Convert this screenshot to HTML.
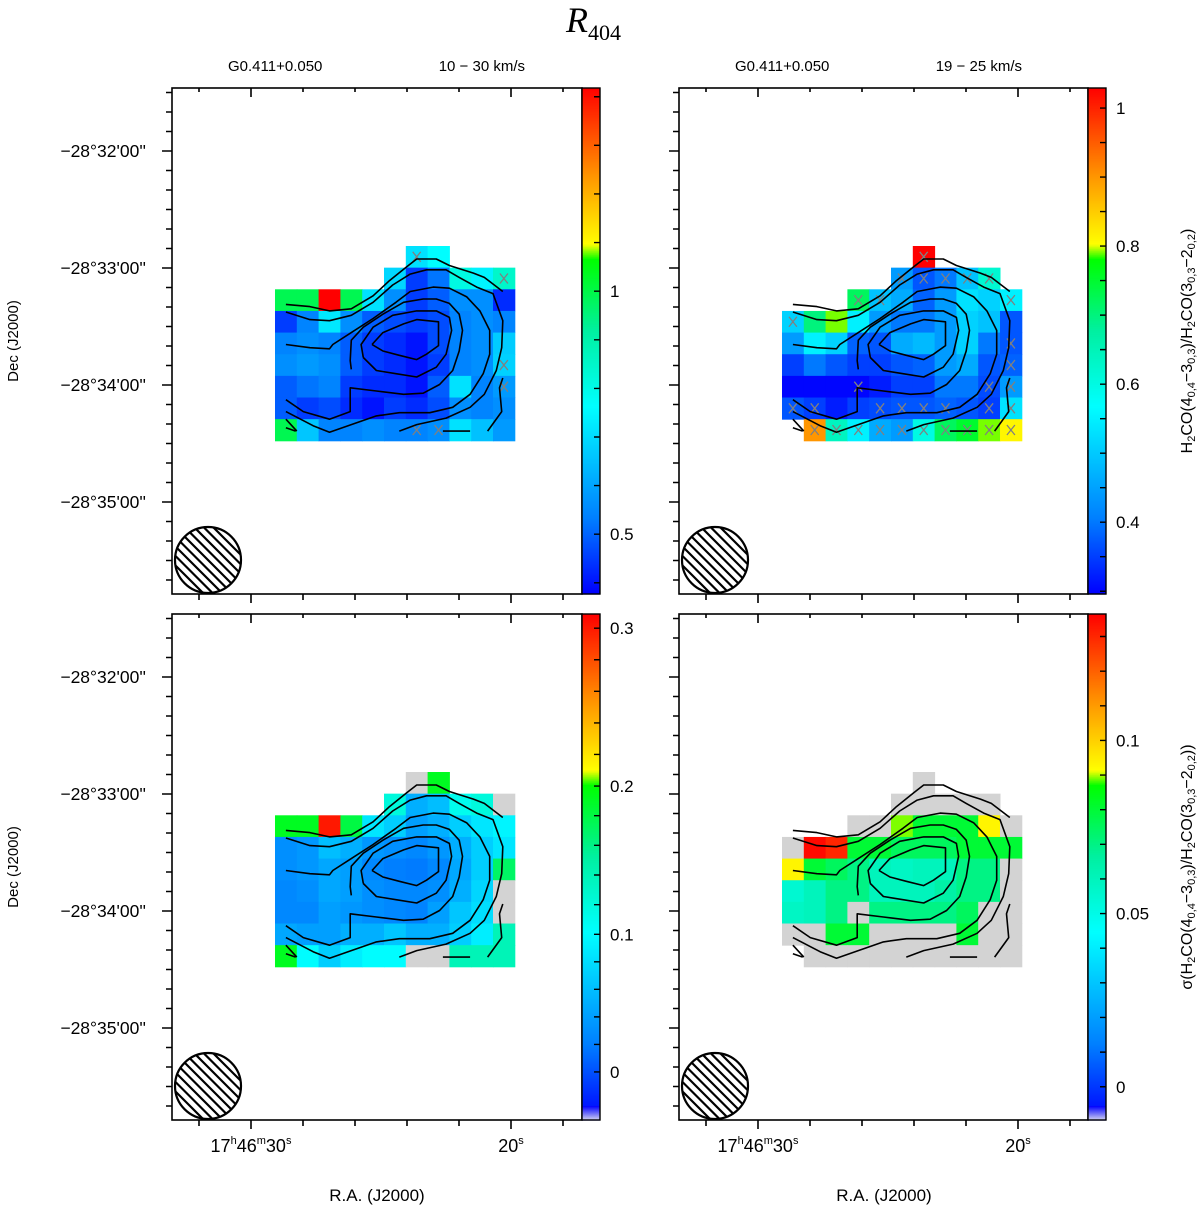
<!DOCTYPE html>
<html><head><meta charset="utf-8"><style>
html,body{margin:0;padding:0;background:#fff;}
svg{display:block;font-family:"Liberation Sans",sans-serif;}
</style></head><body>
<svg id="fig" width="1200" height="1208" viewBox="0 0 1200 1208" xmlns="http://www.w3.org/2000/svg">
<text x="566" y="32" font-family="Liberation Serif,serif" font-style="italic" font-size="36">R<tspan font-size="22" dy="8" font-style="normal">404</tspan></text>
<text x="228" y="71" font-size="15">G0.411+0.050</text>
<text x="525" y="71" text-anchor="end" font-size="15">10 − 30 km/s</text>
<text x="735" y="71" font-size="15">G0.411+0.050</text>
<text x="1022" y="71" text-anchor="end" font-size="15">19 − 25 km/s</text>
<text transform="translate(18,341) rotate(-90)" text-anchor="middle" font-size="15">Dec (J2000)</text>
<text transform="translate(18,867) rotate(-90)" text-anchor="middle" font-size="15">Dec (J2000)</text>
<text x="377" y="1201" text-anchor="middle" font-size="17">R.A. (J2000)</text>
<text x="884" y="1201" text-anchor="middle" font-size="17">R.A. (J2000)</text>
<text transform="translate(1192,341) rotate(-90)" text-anchor="middle" font-size="16">H<tspan font-size="11" dy="3">2</tspan><tspan dy="-3">CO(4</tspan><tspan font-size="11" dy="3">0,4</tspan><tspan dy="-3">−3</tspan><tspan font-size="11" dy="3">0,3</tspan><tspan dy="-3">)/H</tspan><tspan font-size="11" dy="3">2</tspan><tspan dy="-3">CO(3</tspan><tspan font-size="11" dy="3">0,3</tspan><tspan dy="-3">−2</tspan><tspan font-size="11" dy="3">0,2</tspan><tspan dy="-3">)</tspan></text>
<text transform="translate(1192,867) rotate(-90)" text-anchor="middle" font-size="16">σ(H<tspan font-size="11" dy="3">2</tspan><tspan dy="-3">CO(4</tspan><tspan font-size="11" dy="3">0,4</tspan><tspan dy="-3">−3</tspan><tspan font-size="11" dy="3">0,3</tspan><tspan dy="-3">)/H</tspan><tspan font-size="11" dy="3">2</tspan><tspan dy="-3">CO(3</tspan><tspan font-size="11" dy="3">0,3</tspan><tspan dy="-3">−2</tspan><tspan font-size="11" dy="3">0,2</tspan><tspan dy="-3">))</tspan></text>
</svg>
<script>
// ---- data (null = no data, -1 = masked grey) ----
const n = null, g = -1;
const ratioWide = [
 [n,n,n,n,n,n,0.71,0.76,n,n,n],
 [n,n,n,n,n,0.69,0.45,0.52,0.81,0.74,0.85],
 [0.99,0.99,1.50,0.99,0.71,0.56,0.45,0.49,0.56,0.56,0.43],
 [0.45,0.54,0.72,0.56,0.49,0.47,0.45,0.47,0.54,0.56,0.54],
 [0.54,0.56,0.54,0.49,0.45,0.43,0.40,0.47,0.54,0.56,0.67],
 [0.56,0.58,0.56,0.49,0.45,0.43,0.40,0.45,0.54,0.56,0.68],
 [0.49,0.52,0.54,0.45,0.43,0.43,0.40,0.49,0.71,0.54,0.58],
 [0.49,0.45,0.47,0.43,0.40,0.45,0.43,0.47,0.56,0.54,0.56],
 [0.99,0.66,0.54,0.54,0.56,0.54,0.54,0.56,0.71,0.65,0.58]
];
const ratioNarrow = [
 [n,n,n,n,n,n,1.05,n,n,n,n],
 [n,n,n,n,n,0.44,0.37,0.40,0.49,0.62,n],
 [n,n,n,0.72,0.49,0.46,0.38,0.44,0.53,0.51,0.55],
 [0.51,0.70,0.79,0.55,0.44,0.40,0.40,0.44,0.51,0.49,0.37],
 [0.44,0.55,0.51,0.38,0.37,0.46,0.48,0.44,0.51,0.40,0.37],
 [0.35,0.40,0.37,0.35,0.35,0.37,0.38,0.44,0.46,0.37,0.38],
 [0.30,0.30,0.30,0.30,0.32,0.35,0.35,0.40,0.40,0.36,0.44],
 [0.37,0.35,0.32,0.35,0.36,0.37,0.37,0.38,0.37,0.35,0.53],
 [n,0.90,0.64,0.55,0.46,0.44,0.60,0.72,0.75,0.79,0.81]
];
const sigmaWide = [
 [n,n,n,n,n,n,g,0.19,n,n,n],
 [n,n,n,n,n,0.12,0.05,0.06,0.11,0.12,g],
 [0.19,0.19,0.30,0.18,0.085,0.07,0.04,0.05,0.07,0.085,0.095],
 [0.03,0.035,0.06,0.05,0.035,0.03,0.025,0.035,0.05,0.07,0.085],
 [0.03,0.035,0.045,0.04,0.025,0.02,0.018,0.025,0.045,0.07,0.17],
 [0.025,0.03,0.045,0.04,0.03,0.025,0.025,0.03,0.05,0.075,g],
 [0.025,0.025,0.04,0.035,0.03,0.025,0.022,0.04,0.065,0.08,g],
 [0.045,0.04,0.04,0.05,0.05,0.065,0.05,0.05,0.07,0.09,0.14],
 [0.19,0.10,0.07,0.09,0.10,0.10,g,g,0.14,0.14,0.14]
];
const sigmaNarrow = [
 [n,n,n,n,n,n,g,n,n,n,n],
 [n,n,n,n,n,g,g,g,g,g,n],
 [n,n,n,g,g,0.089,0.080,0.080,0.080,0.093,g],
 [g,0.135,0.130,0.080,0.080,0.075,0.075,0.075,0.080,0.080,0.080],
 [0.093,0.080,0.075,0.070,0.060,0.058,0.060,0.060,0.070,0.070,g],
 [0.055,0.060,0.070,0.070,0.060,0.060,0.060,0.065,0.070,0.070,g],
 [0.058,0.060,0.070,g,0.070,0.070,0.070,0.070,0.075,g,g],
 [g,g,0.080,0.080,g,g,g,g,0.080,g,g],
 [n,g,g,g,g,g,g,g,g,g,g]
];
// flagged pixels [col,row]
const flagsWide = [[6,0],[10,1],[10,5],[10,6],[6,8],[7,8]];
const flagsNarrow = [[6,0],[5,1],[6,1],[7,1],[8,1],[9,1],[3,2],[4,2],[10,2],[0,3],[10,4],[10,5],[3,6],[9,6],[10,6],
 [0,7],[1,7],[4,7],[5,7],[6,7],[7,7],[9,7],[10,7],[1,8],[2,8],[3,8],[4,8],[5,8],[6,8],[7,8],[8,8],[9,8],[10,8]];
// contour lines in pixel-grid units [col,row]
const contourA = [[0.5,2.7],[1.6,2.8],[2.5,3.0],[3.5,2.9],[4.5,2.3],[5.25,1.6],[6.05,0.95],[6.5,0.6],[7.4,0.6],[8.0,0.9],[9.1,1.25],[9.6,1.45],[10.45,2.1]];
const contourB = [[0.5,3.05],[1.6,3.4],[2.5,3.45],[3.5,3.2],[4.5,2.6],[5.4,1.8],[6.2,1.3],[6.95,1.1],[7.85,1.1],[8.45,1.45],[9.25,1.9],[10.0,2.2],[10.45,3.45],[10.4,4.7],[10.15,5.75],[9.6,6.85],[8.95,7.45],[7.85,7.95],[6.5,8.25],[5.7,8.55]];
const contourC = [[0.5,4.55],[1.6,4.7],[2.5,4.75],[2.65,4.55],[3.5,4.0],[4.5,3.35],[5.55,2.6],[6.2,2.1],[7.25,1.9],[8.0,1.95],[8.8,2.35],[9.4,3.0],[9.85,3.9],[9.85,5.0],[9.55,5.9],[8.95,6.85],[8.15,7.45],[7.1,7.7],[5.7,7.7],[4.65,7.85],[3.5,8.25],[2.5,8.6],[1.75,8.3],[0.5,7.65]];
const contourD = [[0.5,7.1],[1.3,7.65],[2.5,8.0],[3.45,7.65],[3.45,6.55],[4.65,6.7],[5.9,6.85],[6.8,6.8],[7.55,6.4],[8.15,5.75],[8.45,4.85],[8.6,3.9],[8.45,3.15],[8.0,2.65],[7.4,2.45],[6.8,2.45],[5.9,2.6],[4.95,3.15],[4.05,3.75],[3.5,4.35],[3.45,5.3],[3.5,5.7]];
const contourE = [[4.05,5.15],[3.95,4.55],[4.5,3.75],[5.4,3.2],[6.5,3.0],[7.4,3.0],[8.0,3.3],[8.1,3.9],[7.85,5.0],[7.4,5.6],[6.5,6.05],[5.55,5.9],[4.65,5.75],[4.05,5.15]];
const contourF = [[4.45,4.55],[4.95,4.0],[5.9,3.6],[6.5,3.4],[7.5,3.5],[7.5,4.6],[6.95,5.0],[6.5,5.25],[5.7,5.05],[4.95,4.85],[4.45,4.55]];
const contourS1 = [[0.5,8.0],[1.0,8.55]];
const contourS2 = [[7.7,8.55],[8.95,8.55]];
const contourS3 = [[9.75,8.55],[10.4,7.65],[10.3,6.55],[10.45,6.1]];
const contourS4 = [[0.5,8.4],[0.95,8.55]];
// colorbar ticks
const ticksWideMajor = [0.5, 1];
const ticksWideLabels = ['0.5', '1'];
const ticksNarrowMajor = [0.4, 0.6, 0.8, 1];
const ticksNarrowLabels = ['0.4', '0.6', '0.8', '1'];
const ticksSigWMajor = [0, 0.1, 0.2, 0.3];
const ticksSigWLabels = ['0', '0.1', '0.2', '0.3'];
const ticksSigNMajor = [0, 0.05, 0.1];
const ticksSigNLabels = ['0', '0.05', '0.1'];
const decTickLabels = ["−28°32'00''", "−28°33'00''", "−28°34'00''", "−28°35'00''"];
const decTickMinutes = [32, 33, 34, 35];
const raTickSeconds = [30, 20];

// ---- geometry ----
const SVGNS = 'http://www.w3.org/2000/svg';
const svg = document.getElementById('fig');
function el(tag, attrs, parent) {
  const e = document.createElementNS(SVGNS, tag);
  for (const k in attrs) e.setAttribute(k, attrs[k]);
  (parent || svg).appendChild(e);
  return e;
}
const stops = [[0,[0,0,255]],[0.15,[0,128,255]],[0.37,[0,255,255]],[0.52,[0,240,160]],[0.66,[0,255,0]],[0.69,[255,255,0]],[0.82,[255,153,0]],[1,[255,0,0]]];
function cmap(f) {
  f = Math.max(0, Math.min(1, f));
  for (let i = 1; i < stops.length; i++) {
    if (f <= stops[i][0]) {
      const a = stops[i-1], b = stops[i], t = (f - a[0]) / (b[0] - a[0]);
      const c = a[1].map((v, k) => Math.round(v + (b[1][k] - v) * t));
      return 'rgb(' + c.join(',') + ')';
    }
  }
  return 'rgb(255,0,0)';
}
function lin(vmin, vmax) { return v => (v - vmin) / (vmax - vmin); }
function piece(vals, fr) {
  return v => {
    for (let i = 1; i < vals.length; i++) if (v <= vals[i] || i === vals.length - 1) {
      return fr[i-1] + (v - vals[i-1]) / (vals[i] - vals[i-1]) * (fr[i] - fr[i-1]);
    }
  };
}
const panels = [
  {name:'ratio-wide', ox:0, oy:0, data:ratioWide, flags:flagsWide, scale:lin(0.377,1.418), major:ticksWideMajor, labels:ticksWideLabels, minor:[0.4,1.4,0.1], xlabels:false, ylabels:true, lav:false},
  {name:'ratio-narrow', ox:507, oy:0, data:ratioNarrow, flags:flagsNarrow, scale:lin(0.296,1.029), major:ticksNarrowMajor, labels:ticksNarrowLabels, minor:[0.3,1.0,0.05], xlabels:false, ylabels:false, lav:false},
  {name:'sigma-wide', ox:0, oy:526, data:sigmaWide, flags:[], scale:piece([-0.035,0,0.1,0.2,0.3,0.309],[0,0.095,0.367,0.66,0.972,1]), major:ticksSigWMajor, labels:ticksSigWLabels, minor:[0,0.3,0.02], xlabels:true, ylabels:true, lav:true},
  {name:'sigma-narrow', ox:507, oy:526, data:sigmaNarrow, flags:[], scale:lin(-0.0096,0.1365), major:ticksSigNMajor, labels:ticksSigNLabels, minor:[0,0.13,0.01], xlabels:true, ylabels:false, lav:true}
];
const contours = [contourA, contourB, contourC, contourD, contourE, contourF, contourS1, contourS2, contourS3, contourS4];
const raRef = 30, decRef = 32, pxPerSec = 26, pxPerMin = 117;
const raGrid0 = 29.077, cellRA = 0.8385, decGrid0 = 32.812, cellDec = 0.185;

panels.forEach((p, pi) => {
  const fx0 = 172 + p.ox, fx1 = 582 + p.ox + (p.ox ? -1 : 0), fy0 = 88 + p.oy, fy1 = 594 + p.oy;
  const xOf = ra => 251 + p.ox + (raRef - ra) * pxPerSec;
  const yOf = dm => 151 + p.oy + (dm - decRef) * pxPerMin;
  const gx = c => xOf(raGrid0 - c * cellRA);
  const gy = r => yOf(decGrid0 + r * cellDec);
  const grp = el('g', {});
  
  
  p.data.forEach((row, r) => row.forEach((v, c) => {
    if (v === null) return;
    const rc = el('rect', {x: gx(c), y: gy(r), width: gx(c+1) - gx(c) + 0.5, height: gy(r+1) - gy(r) + 0.5,
      fill: v === -1 ? '#d3d3d3' : cmap(p.scale(v))}, grp);
    
    
  }));
  p.flags.forEach(([c, r]) => {
    const cx = (gx(c) + gx(c+1)) / 2, cy = (gy(r) + gy(r+1)) / 2;
    const fl = el('path', {d: `M${cx-4},${cy-5}L${cx+4},${cy+5}M${cx+4},${cy-5}L${cx-4},${cy+5}`, stroke:'#808080', 'stroke-width':1.3, fill:'none'}, grp);
    
    
  });
  contours.forEach((pts) => {
    const d = pts.map((q, i) => (i ? 'L' : 'M') + gx(q[0]).toFixed(1) + ',' + gy(q[1]).toFixed(1)).join('');
    const cl = el('path', {d, stroke:'#000', 'stroke-width':1.6, fill:'none', 'stroke-linejoin':'round'}, grp);
    
    
  });
  const bx = 208 + p.ox, by = 560 + p.oy, br = 33;
  const cpId = 'beamclip' + pi;
  const cp = el('clipPath', {id: cpId}, grp);
  el('circle', {cx: bx, cy: by, r: br}, cp);
  const hatch = el('g', {'clip-path': 'url(#' + cpId + ')'}, grp);
  let hd = '';
  for (let k = -8; k <= 8; k++) { const o = k * 9.5; hd += `M${bx - 50 + o},${by - 50}L${bx + 50 + o},${by + 50}`; }
  el('path', {d: hd, stroke:'#000', 'stroke-width':2.2}, hatch);
  const beam = el('circle', {cx: bx, cy: by, r: br, fill:'none', stroke:'#000', 'stroke-width':2.2}, grp);
  
  
  const fr = el('rect', {x: fx0, y: fy0, width: fx1 - fx0, height: fy1 - fy0, fill:'none', stroke:'#000', 'stroke-width':1.6}, grp);
  
  
  let td = '';
  for (let s = 32; s >= 18; s -= 2) {
    const x = xOf(s), maj = raTickSeconds.includes(s);
    td += `M${x},${fy1}L${x},${fy1 + (maj ? 9 : 6)}M${x},${fy0}L${x},${fy0 + (maj ? 9 : 4)}`;
  }
  for (let k = -3; k <= 22; k++) {
    const dm = decRef + k / 6, y = yOf(dm), maj = k % 6 === 0;
    td += `M${fx0 - (maj ? 10 : 6)},${y}L${fx0},${y}`;
  }
  const tk = el('path', {d: td, stroke:'#000', 'stroke-width':1.6}, grp);
  
  
  if (p.ylabels) decTickMinutes.forEach((m, i) => {
    const t = el('text', {x: 146, y: yOf(m) + 6, 'text-anchor':'end', 'font-size':17.5}, grp);
    t.textContent = decTickLabels[i];
    
    
  });
  if (p.xlabels) {
    const t1 = el('text', {x: xOf(30), y: 1152, 'text-anchor':'middle', 'font-size':18}, grp);
    t1.innerHTML = '17<tspan font-size="11" dy="-8">h</tspan><tspan dy="8">46</tspan><tspan font-size="11" dy="-8">m</tspan><tspan dy="8">30</tspan><tspan font-size="11" dy="-8">s</tspan>';
    
    
    const t2 = el('text', {x: xOf(20), y: 1152, 'text-anchor':'middle', 'font-size':18}, grp);
    t2.innerHTML = '20<tspan font-size="11" dy="-8">s</tspan>';
    
    
  }
  const cbx = fx1, cbw = 18, cby0 = fy0, cby1 = fy1, H = cby1 - cby0;
  const cb = el('g', {}, grp);
  
  
  for (let yy = 0; yy < H; yy += 2) {
    el('rect', {x: cbx, y: cby1 - yy - 2, width: cbw, height: 2.6, fill: cmap(yy / H)}, cb);
  }
  if (p.lav) {
    const lg = el('linearGradient', {id: 'lav' + pi, x1:0, y1:0, x2:0, y2:1}, cb);
    el('stop', {offset:0, 'stop-color':'#0000ff'}, lg);
    el('stop', {offset:1, 'stop-color':'#d0d0f0'}, lg);
    el('rect', {x: cbx, y: cby1 - 14, width: cbw, height: 14, fill: 'url(#lav' + pi + ')'}, cb);
  }
  el('rect', {x: cbx, y: cby0, width: cbw, height: H, fill:'none', stroke:'#000', 'stroke-width':1.4}, cb);
  let cd = '';
  const [m0, m1, st] = p.minor;
  for (let v = m0; v <= m1 + 1e-9; v += st) {
    const y = cby1 - p.scale(v) * H;
    if (y > cby0 + 1 && y < cby1 - 1) cd += `M${cbx + cbw - 6},${y}L${cbx + cbw},${y}`;
  }
  el('path', {d: cd, stroke:'#000', 'stroke-width':1.4}, cb);
  p.major.forEach((v, i) => {
    const y = cby1 - p.scale(v) * H;
    const t = el('text', {x: cbx + cbw + 10, y: y + 6, 'font-size':17}, cb);
    t.textContent = p.labels[i];
    
    
  });
});
</script>
</body></html>
